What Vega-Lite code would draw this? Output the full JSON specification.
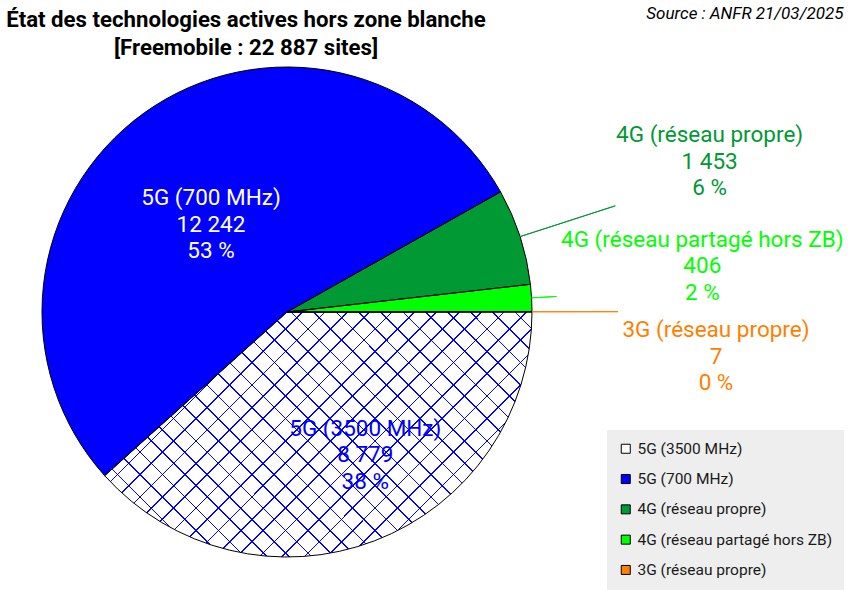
{
  "$schema": "https://vega.github.io/schema/vega-lite/v6.json",
  "width": 574,
  "height": 490,
  "autosize": "none",
  "padding": {"left": 0, "top": 67, "right": 274, "bottom": 33},
  "background": "white",
  "config": {"view": {"stroke": null}, "font": "Roboto"},
  "title": {
    "text": ["État des technologies actives hors zone blanche", "[Freemobile : 22 887 sites]"],
    "font": "Roboto",
    "fontSize": 22.2,
    "fontWeight": "bold",
    "lineHeight": 28,
    "color": "#000",
    "anchor": "middle",
    "frame": "group",
    "dx": -41,
    "dy": 65,
    "offset": 10
  },
  "data": {
    "values": [
      {"order": 1, "tech": "5G (3500 MHz)", "sites": 8779, "label": "5G (3500 MHz)\n8 779\n38 %"},
      {"order": 2, "tech": "5G (700 MHz)", "sites": 12242, "label": "5G (700 MHz)\n12 242\n53 %"},
      {"order": 3, "tech": "4G (réseau propre)", "sites": 1453, "label": "4G (réseau propre)\n1 453\n6 %"},
      {"order": 4, "tech": "4G (réseau partagé hors ZB)", "sites": 406, "label": "4G (réseau partagé hors ZB)\n406\n2 %"},
      {"order": 5, "tech": "3G (réseau propre)", "sites": 7, "label": "3G (réseau propre)\n7\n0 %"}
    ]
  },
  "transform": [
    {"stack": "sites", "groupby": [], "sort": [{"field": "order", "order": "ascending"}], "as": ["s0", "s1"]}
  ],
  "layer": [
    {
      "mark": {"type": "arc", "outerRadius": 245},
      "encoding": {
        "theta": {"field": "s0", "type": "quantitative", "stack": null, "scale": {"domain": [0, 22887], "range": [1.5708, 7.854]}},
        "theta2": {"field": "s1"},
        "color": {
          "field": "tech",
          "type": "nominal",
          "scale": {
            "domain": ["5G (3500 MHz)", "5G (700 MHz)", "4G (réseau propre)", "4G (réseau partagé hors ZB)", "3G (réseau propre)"],
            "range": ["#ffffff", "#0000ff", "#009933", "#00ff00", "#ff8000"]
          },
          "legend": {
            "title": null,
            "orient": "none",
            "legendX": 607,
            "legendY": 363,
            "fillColor": "#eeeeee",
            "padding": 11,
            "rowPadding": 13.3,
            "symbolType": "square",
            "symbolSize": 81,
            "symbolStrokeColor": "#000",
            "symbolStrokeWidth": 1,
            "symbolOpacity": 1,
            "labelFont": "Roboto",
            "labelFontSize": 15.5,
            "labelColor": "#1a1a1a",
            "labelOffset": 4,
            "labelLimit": 400
          }
        }
      }
    },
    {
      "transform": [{"filter": "datum.tech === '5G (3500 MHz)'"}],
      "mark": {
        "type": "arc",
        "outerRadius": 245,
        "fill": {
          "gradient": "linear", "x1": 0, "y1": 0, "x2": 1.1841, "y2": 0.6787,
          "stops": [
            {"offset":0.0265,"color":"rgba(0,0,255,0)"},{"offset":0.0265,"color":"#0000ff"},{"offset":0.0289,"color":"#0000ff"},{"offset":0.0289,"color":"rgba(0,0,255,0)"},
            {"offset":0.0598,"color":"rgba(0,0,255,0)"},{"offset":0.0598,"color":"#0000ff"},{"offset":0.0622,"color":"#0000ff"},{"offset":0.0622,"color":"rgba(0,0,255,0)"},
            {"offset":0.0931,"color":"rgba(0,0,255,0)"},{"offset":0.0931,"color":"#0000ff"},{"offset":0.0955,"color":"#0000ff"},{"offset":0.0955,"color":"rgba(0,0,255,0)"},
            {"offset":0.1264,"color":"rgba(0,0,255,0)"},{"offset":0.1264,"color":"#0000ff"},{"offset":0.1288,"color":"#0000ff"},{"offset":0.1288,"color":"rgba(0,0,255,0)"},
            {"offset":0.1597,"color":"rgba(0,0,255,0)"},{"offset":0.1597,"color":"#0000ff"},{"offset":0.1621,"color":"#0000ff"},{"offset":0.1621,"color":"rgba(0,0,255,0)"},
            {"offset":0.1930,"color":"rgba(0,0,255,0)"},{"offset":0.1930,"color":"#0000ff"},{"offset":0.1954,"color":"#0000ff"},{"offset":0.1954,"color":"rgba(0,0,255,0)"},
            {"offset":0.2263,"color":"rgba(0,0,255,0)"},{"offset":0.2263,"color":"#0000ff"},{"offset":0.2287,"color":"#0000ff"},{"offset":0.2287,"color":"rgba(0,0,255,0)"},
            {"offset":0.2596,"color":"rgba(0,0,255,0)"},{"offset":0.2596,"color":"#0000ff"},{"offset":0.2620,"color":"#0000ff"},{"offset":0.2620,"color":"rgba(0,0,255,0)"},
            {"offset":0.2930,"color":"rgba(0,0,255,0)"},{"offset":0.2930,"color":"#0000ff"},{"offset":0.2954,"color":"#0000ff"},{"offset":0.2954,"color":"rgba(0,0,255,0)"},
            {"offset":0.3263,"color":"rgba(0,0,255,0)"},{"offset":0.3263,"color":"#0000ff"},{"offset":0.3287,"color":"#0000ff"},{"offset":0.3287,"color":"rgba(0,0,255,0)"},
            {"offset":0.3596,"color":"rgba(0,0,255,0)"},{"offset":0.3596,"color":"#0000ff"},{"offset":0.3620,"color":"#0000ff"},{"offset":0.3620,"color":"rgba(0,0,255,0)"},
            {"offset":0.3929,"color":"rgba(0,0,255,0)"},{"offset":0.3929,"color":"#0000ff"},{"offset":0.3953,"color":"#0000ff"},{"offset":0.3953,"color":"rgba(0,0,255,0)"},
            {"offset":0.4262,"color":"rgba(0,0,255,0)"},{"offset":0.4262,"color":"#0000ff"},{"offset":0.4286,"color":"#0000ff"},{"offset":0.4286,"color":"rgba(0,0,255,0)"},
            {"offset":0.4595,"color":"rgba(0,0,255,0)"},{"offset":0.4595,"color":"#0000ff"},{"offset":0.4619,"color":"#0000ff"},{"offset":0.4619,"color":"rgba(0,0,255,0)"},
            {"offset":0.4928,"color":"rgba(0,0,255,0)"},{"offset":0.4928,"color":"#0000ff"},{"offset":0.4952,"color":"#0000ff"},{"offset":0.4952,"color":"rgba(0,0,255,0)"},
            {"offset":0.5262,"color":"rgba(0,0,255,0)"},{"offset":0.5262,"color":"#0000ff"},{"offset":0.5286,"color":"#0000ff"},{"offset":0.5286,"color":"rgba(0,0,255,0)"},
            {"offset":0.5595,"color":"rgba(0,0,255,0)"},{"offset":0.5595,"color":"#0000ff"},{"offset":0.5619,"color":"#0000ff"},{"offset":0.5619,"color":"rgba(0,0,255,0)"},
            {"offset":0.5928,"color":"rgba(0,0,255,0)"},{"offset":0.5928,"color":"#0000ff"},{"offset":0.5952,"color":"#0000ff"},{"offset":0.5952,"color":"rgba(0,0,255,0)"},
            {"offset":0.6261,"color":"rgba(0,0,255,0)"},{"offset":0.6261,"color":"#0000ff"},{"offset":0.6285,"color":"#0000ff"},{"offset":0.6285,"color":"rgba(0,0,255,0)"},
            {"offset":0.6594,"color":"rgba(0,0,255,0)"},{"offset":0.6594,"color":"#0000ff"},{"offset":0.6618,"color":"#0000ff"},{"offset":0.6618,"color":"rgba(0,0,255,0)"},
            {"offset":0.6927,"color":"rgba(0,0,255,0)"},{"offset":0.6927,"color":"#0000ff"},{"offset":0.6951,"color":"#0000ff"},{"offset":0.6951,"color":"rgba(0,0,255,0)"},
            {"offset":0.7260,"color":"rgba(0,0,255,0)"},{"offset":0.7260,"color":"#0000ff"},{"offset":0.7284,"color":"#0000ff"},{"offset":0.7284,"color":"rgba(0,0,255,0)"},
            {"offset":0.7594,"color":"rgba(0,0,255,0)"},{"offset":0.7594,"color":"#0000ff"},{"offset":0.7618,"color":"#0000ff"},{"offset":0.7618,"color":"rgba(0,0,255,0)"},
            {"offset":0.7927,"color":"rgba(0,0,255,0)"},{"offset":0.7927,"color":"#0000ff"},{"offset":0.7951,"color":"#0000ff"},{"offset":0.7951,"color":"rgba(0,0,255,0)"},
            {"offset":0.8260,"color":"rgba(0,0,255,0)"},{"offset":0.8260,"color":"#0000ff"},{"offset":0.8284,"color":"#0000ff"},{"offset":0.8284,"color":"rgba(0,0,255,0)"},
            {"offset":0.8593,"color":"rgba(0,0,255,0)"},{"offset":0.8593,"color":"#0000ff"},{"offset":0.8617,"color":"#0000ff"},{"offset":0.8617,"color":"rgba(0,0,255,0)"},
            {"offset":0.8926,"color":"rgba(0,0,255,0)"},{"offset":0.8926,"color":"#0000ff"},{"offset":0.8950,"color":"#0000ff"},{"offset":0.8950,"color":"rgba(0,0,255,0)"},
            {"offset":0.9259,"color":"rgba(0,0,255,0)"},{"offset":0.9259,"color":"#0000ff"},{"offset":0.9283,"color":"#0000ff"},{"offset":0.9283,"color":"rgba(0,0,255,0)"},
            {"offset":0.9593,"color":"rgba(0,0,255,0)"},{"offset":0.9593,"color":"#0000ff"},{"offset":0.9617,"color":"#0000ff"},{"offset":0.9617,"color":"rgba(0,0,255,0)"},
            {"offset":0.9926,"color":"rgba(0,0,255,0)"},{"offset":0.9926,"color":"#0000ff"},{"offset":0.9950,"color":"#0000ff"},{"offset":0.9950,"color":"rgba(0,0,255,0)"}
          ]
        }
      },
      "encoding": {
        "theta": {"field": "s0", "type": "quantitative", "stack": null},
        "theta2": {"field": "s1"}
      }
    },
    {
      "transform": [{"filter": "datum.tech === '5G (3500 MHz)'"}],
      "mark": {
        "type": "arc",
        "outerRadius": 245,
        "fill": {
          "gradient": "linear", "x1": 0, "y1": 1, "x2": 1.1841, "y2": 0.3213,
          "stops": [
            {"offset":0.0074,"color":"rgba(0,0,255,0)"},{"offset":0.0074,"color":"#0000ff"},{"offset":0.0098,"color":"#0000ff"},{"offset":0.0098,"color":"rgba(0,0,255,0)"},
            {"offset":0.0407,"color":"rgba(0,0,255,0)"},{"offset":0.0407,"color":"#0000ff"},{"offset":0.0431,"color":"#0000ff"},{"offset":0.0431,"color":"rgba(0,0,255,0)"},
            {"offset":0.0740,"color":"rgba(0,0,255,0)"},{"offset":0.0740,"color":"#0000ff"},{"offset":0.0764,"color":"#0000ff"},{"offset":0.0764,"color":"rgba(0,0,255,0)"},
            {"offset":0.1073,"color":"rgba(0,0,255,0)"},{"offset":0.1073,"color":"#0000ff"},{"offset":0.1097,"color":"#0000ff"},{"offset":0.1097,"color":"rgba(0,0,255,0)"},
            {"offset":0.1406,"color":"rgba(0,0,255,0)"},{"offset":0.1406,"color":"#0000ff"},{"offset":0.1430,"color":"#0000ff"},{"offset":0.1430,"color":"rgba(0,0,255,0)"},
            {"offset":0.1739,"color":"rgba(0,0,255,0)"},{"offset":0.1739,"color":"#0000ff"},{"offset":0.1763,"color":"#0000ff"},{"offset":0.1763,"color":"rgba(0,0,255,0)"},
            {"offset":0.2073,"color":"rgba(0,0,255,0)"},{"offset":0.2073,"color":"#0000ff"},{"offset":0.2097,"color":"#0000ff"},{"offset":0.2097,"color":"rgba(0,0,255,0)"},
            {"offset":0.2406,"color":"rgba(0,0,255,0)"},{"offset":0.2406,"color":"#0000ff"},{"offset":0.2430,"color":"#0000ff"},{"offset":0.2430,"color":"rgba(0,0,255,0)"},
            {"offset":0.2739,"color":"rgba(0,0,255,0)"},{"offset":0.2739,"color":"#0000ff"},{"offset":0.2763,"color":"#0000ff"},{"offset":0.2763,"color":"rgba(0,0,255,0)"},
            {"offset":0.3072,"color":"rgba(0,0,255,0)"},{"offset":0.3072,"color":"#0000ff"},{"offset":0.3096,"color":"#0000ff"},{"offset":0.3096,"color":"rgba(0,0,255,0)"},
            {"offset":0.3405,"color":"rgba(0,0,255,0)"},{"offset":0.3405,"color":"#0000ff"},{"offset":0.3429,"color":"#0000ff"},{"offset":0.3429,"color":"rgba(0,0,255,0)"},
            {"offset":0.3738,"color":"rgba(0,0,255,0)"},{"offset":0.3738,"color":"#0000ff"},{"offset":0.3762,"color":"#0000ff"},{"offset":0.3762,"color":"rgba(0,0,255,0)"},
            {"offset":0.4071,"color":"rgba(0,0,255,0)"},{"offset":0.4071,"color":"#0000ff"},{"offset":0.4095,"color":"#0000ff"},{"offset":0.4095,"color":"rgba(0,0,255,0)"},
            {"offset":0.4405,"color":"rgba(0,0,255,0)"},{"offset":0.4405,"color":"#0000ff"},{"offset":0.4429,"color":"#0000ff"},{"offset":0.4429,"color":"rgba(0,0,255,0)"},
            {"offset":0.4738,"color":"rgba(0,0,255,0)"},{"offset":0.4738,"color":"#0000ff"},{"offset":0.4762,"color":"#0000ff"},{"offset":0.4762,"color":"rgba(0,0,255,0)"},
            {"offset":0.5071,"color":"rgba(0,0,255,0)"},{"offset":0.5071,"color":"#0000ff"},{"offset":0.5095,"color":"#0000ff"},{"offset":0.5095,"color":"rgba(0,0,255,0)"},
            {"offset":0.5404,"color":"rgba(0,0,255,0)"},{"offset":0.5404,"color":"#0000ff"},{"offset":0.5428,"color":"#0000ff"},{"offset":0.5428,"color":"rgba(0,0,255,0)"},
            {"offset":0.5737,"color":"rgba(0,0,255,0)"},{"offset":0.5737,"color":"#0000ff"},{"offset":0.5761,"color":"#0000ff"},{"offset":0.5761,"color":"rgba(0,0,255,0)"},
            {"offset":0.6070,"color":"rgba(0,0,255,0)"},{"offset":0.6070,"color":"#0000ff"},{"offset":0.6094,"color":"#0000ff"},{"offset":0.6094,"color":"rgba(0,0,255,0)"},
            {"offset":0.6403,"color":"rgba(0,0,255,0)"},{"offset":0.6403,"color":"#0000ff"},{"offset":0.6427,"color":"#0000ff"},{"offset":0.6427,"color":"rgba(0,0,255,0)"},
            {"offset":0.6737,"color":"rgba(0,0,255,0)"},{"offset":0.6737,"color":"#0000ff"},{"offset":0.6761,"color":"#0000ff"},{"offset":0.6761,"color":"rgba(0,0,255,0)"},
            {"offset":0.7070,"color":"rgba(0,0,255,0)"},{"offset":0.7070,"color":"#0000ff"},{"offset":0.7094,"color":"#0000ff"},{"offset":0.7094,"color":"rgba(0,0,255,0)"},
            {"offset":0.7403,"color":"rgba(0,0,255,0)"},{"offset":0.7403,"color":"#0000ff"},{"offset":0.7427,"color":"#0000ff"},{"offset":0.7427,"color":"rgba(0,0,255,0)"},
            {"offset":0.7736,"color":"rgba(0,0,255,0)"},{"offset":0.7736,"color":"#0000ff"},{"offset":0.7760,"color":"#0000ff"},{"offset":0.7760,"color":"rgba(0,0,255,0)"},
            {"offset":0.8069,"color":"rgba(0,0,255,0)"},{"offset":0.8069,"color":"#0000ff"},{"offset":0.8093,"color":"#0000ff"},{"offset":0.8093,"color":"rgba(0,0,255,0)"},
            {"offset":0.8402,"color":"rgba(0,0,255,0)"},{"offset":0.8402,"color":"#0000ff"},{"offset":0.8426,"color":"#0000ff"},{"offset":0.8426,"color":"rgba(0,0,255,0)"},
            {"offset":0.8735,"color":"rgba(0,0,255,0)"},{"offset":0.8735,"color":"#0000ff"},{"offset":0.8759,"color":"#0000ff"},{"offset":0.8759,"color":"rgba(0,0,255,0)"},
            {"offset":0.9069,"color":"rgba(0,0,255,0)"},{"offset":0.9069,"color":"#0000ff"},{"offset":0.9093,"color":"#0000ff"},{"offset":0.9093,"color":"rgba(0,0,255,0)"},
            {"offset":0.9402,"color":"rgba(0,0,255,0)"},{"offset":0.9402,"color":"#0000ff"},{"offset":0.9426,"color":"#0000ff"},{"offset":0.9426,"color":"rgba(0,0,255,0)"},
            {"offset":0.9735,"color":"rgba(0,0,255,0)"},{"offset":0.9735,"color":"#0000ff"},{"offset":0.9759,"color":"#0000ff"},{"offset":0.9759,"color":"rgba(0,0,255,0)"}
          ]
        }
      },
      "encoding": {
        "theta": {"field": "s0", "type": "quantitative", "stack": null},
        "theta2": {"field": "s1"}
      }
    },
    {
      "mark": {"type": "arc", "outerRadius": 245, "fillOpacity": 0, "stroke": "#000", "strokeWidth": 1},
      "encoding": {
        "theta": {"field": "s0", "type": "quantitative", "stack": null},
        "theta2": {"field": "s1"}
      }
    },
    {
      "transform": [{"filter": "datum.tech === '4G (réseau propre)'"}],
      "mark": {"type": "arc", "outerRadius": 345, "innerRadius": 245, "padAngle": 3, "fillOpacity": 0, "stroke": "#009933", "strokeWidth": 1},
      "encoding": {
        "theta": {"field": "s0", "type": "quantitative", "stack": null},
        "theta2": {"field": "s1"}
      }
    },
    {
      "transform": [{"filter": "datum.tech === '4G (réseau partagé hors ZB)'"}],
      "mark": {"type": "arc", "outerRadius": 270, "innerRadius": 245, "padAngle": 3, "fillOpacity": 0, "stroke": "#00ff00", "strokeWidth": 1},
      "encoding": {
        "theta": {"field": "s0", "type": "quantitative", "stack": null},
        "theta2": {"field": "s1"}
      }
    },
    {
      "transform": [{"filter": "datum.tech === '3G (réseau propre)'"}],
      "mark": {"type": "arc", "outerRadius": 331, "innerRadius": 245, "padAngle": 3, "fillOpacity": 0, "stroke": "#ff8000", "strokeWidth": 1},
      "encoding": {
        "theta": {"field": "s0", "type": "quantitative", "stack": null},
        "theta2": {"field": "s1"}
      }
    },
    {
      "transform": [
        {"filter": "datum.tech === '5G (700 MHz)'"},
        {"fold": ["s0", "s1"], "as": ["bound", "pos"]},
        {"aggregate": [{"op": "mean", "field": "pos", "as": "mid"}], "groupby": ["label"]}
      ],
      "mark": {"type": "text", "radius": 115, "dx": -9, "dy": -20.5, "font": "Roboto", "fontSize": 22.5, "lineHeight": 26.5, "lineBreak": "\n", "align": "center", "baseline": "middle", "color": "#ffffff"},
      "encoding": {
        "theta": {"field": "mid", "type": "quantitative", "stack": null},
        "text": {"field": "label", "type": "nominal"}
      }
    },
    {
      "transform": [
        {"filter": "datum.tech === '5G (3500 MHz)'"},
        {"fold": ["s0", "s1"], "as": ["bound", "pos"]},
        {"aggregate": [{"op": "mean", "field": "pos", "as": "mid"}], "groupby": ["label"]}
      ],
      "mark": {"type": "text", "radius": 163, "dx": 20, "dy": -35.5, "font": "Roboto", "fontSize": 22.5, "lineHeight": 26.5, "lineBreak": "\n", "align": "center", "baseline": "middle", "color": "#0000ff"},
      "encoding": {
        "theta": {"field": "mid", "type": "quantitative", "stack": null},
        "text": {"field": "label", "type": "nominal"}
      }
    },
    {
      "transform": [
        {"filter": "datum.tech === '4G (réseau propre)'"},
        {"fold": ["s0", "s1"], "as": ["bound", "pos"]},
        {"aggregate": [{"op": "mean", "field": "pos", "as": "mid"}], "groupby": ["label"]}
      ],
      "mark": {"type": "text", "radius": 440, "dx": 4, "dy": -41.5, "font": "Roboto", "fontSize": 22.5, "lineHeight": 26.5, "lineBreak": "\n", "align": "center", "baseline": "middle", "color": "#009933"},
      "encoding": {
        "theta": {"field": "mid", "type": "quantitative", "stack": null},
        "text": {"field": "label", "type": "nominal"}
      }
    },
    {
      "transform": [
        {"filter": "datum.tech === '4G (réseau partagé hors ZB)'"},
        {"fold": ["s0", "s1"], "as": ["bound", "pos"]},
        {"aggregate": [{"op": "mean", "field": "pos", "as": "mid"}], "groupby": ["label"]}
      ],
      "mark": {"type": "text", "radius": 416, "dx": 0, "dy": -48.5, "font": "Roboto", "fontSize": 22.5, "lineHeight": 26.5, "lineBreak": "\n", "align": "center", "baseline": "middle", "color": "#00ff00"},
      "encoding": {
        "theta": {"field": "mid", "type": "quantitative", "stack": null},
        "text": {"field": "label", "type": "nominal"}
      }
    },
    {
      "transform": [
        {"filter": "datum.tech === '3G (réseau propre)'"},
        {"fold": ["s0", "s1"], "as": ["bound", "pos"]},
        {"aggregate": [{"op": "mean", "field": "pos", "as": "mid"}], "groupby": ["label"]}
      ],
      "mark": {"type": "text", "radius": 429, "dx": 0, "dy": 18.5, "font": "Roboto", "fontSize": 22.5, "lineHeight": 26.5, "lineBreak": "\n", "align": "center", "baseline": "middle", "color": "#ff8000"},
      "encoding": {
        "theta": {"field": "mid", "type": "quantitative", "stack": null},
        "text": {"field": "label", "type": "nominal"}
      }
    },
    {
      "transform": [{"filter": "datum.order === 1"}],
      "mark": {"type": "text", "text": ""},
      "encoding": {
        "x": {
          "datum": 0,
          "type": "quantitative",
          "scale": {"domain": [0, 1]},
          "axis": {
            "orient": "top",
            "title": "Source : ANFR 21/03/2025",
            "labels": false,
            "ticks": false,
            "domain": false,
            "grid": false,
            "titleX": 843,
            "titleY": -54,
            "titleAlign": "right",
            "titleBaseline": "middle",
            "titleAngle": 0,
            "titleFont": "Roboto",
            "titleFontSize": 17,
            "titleFontStyle": "italic",
            "titleFontWeight": "normal",
            "titleColor": "#000"
          }
        }
      }
    }
  ]
}
